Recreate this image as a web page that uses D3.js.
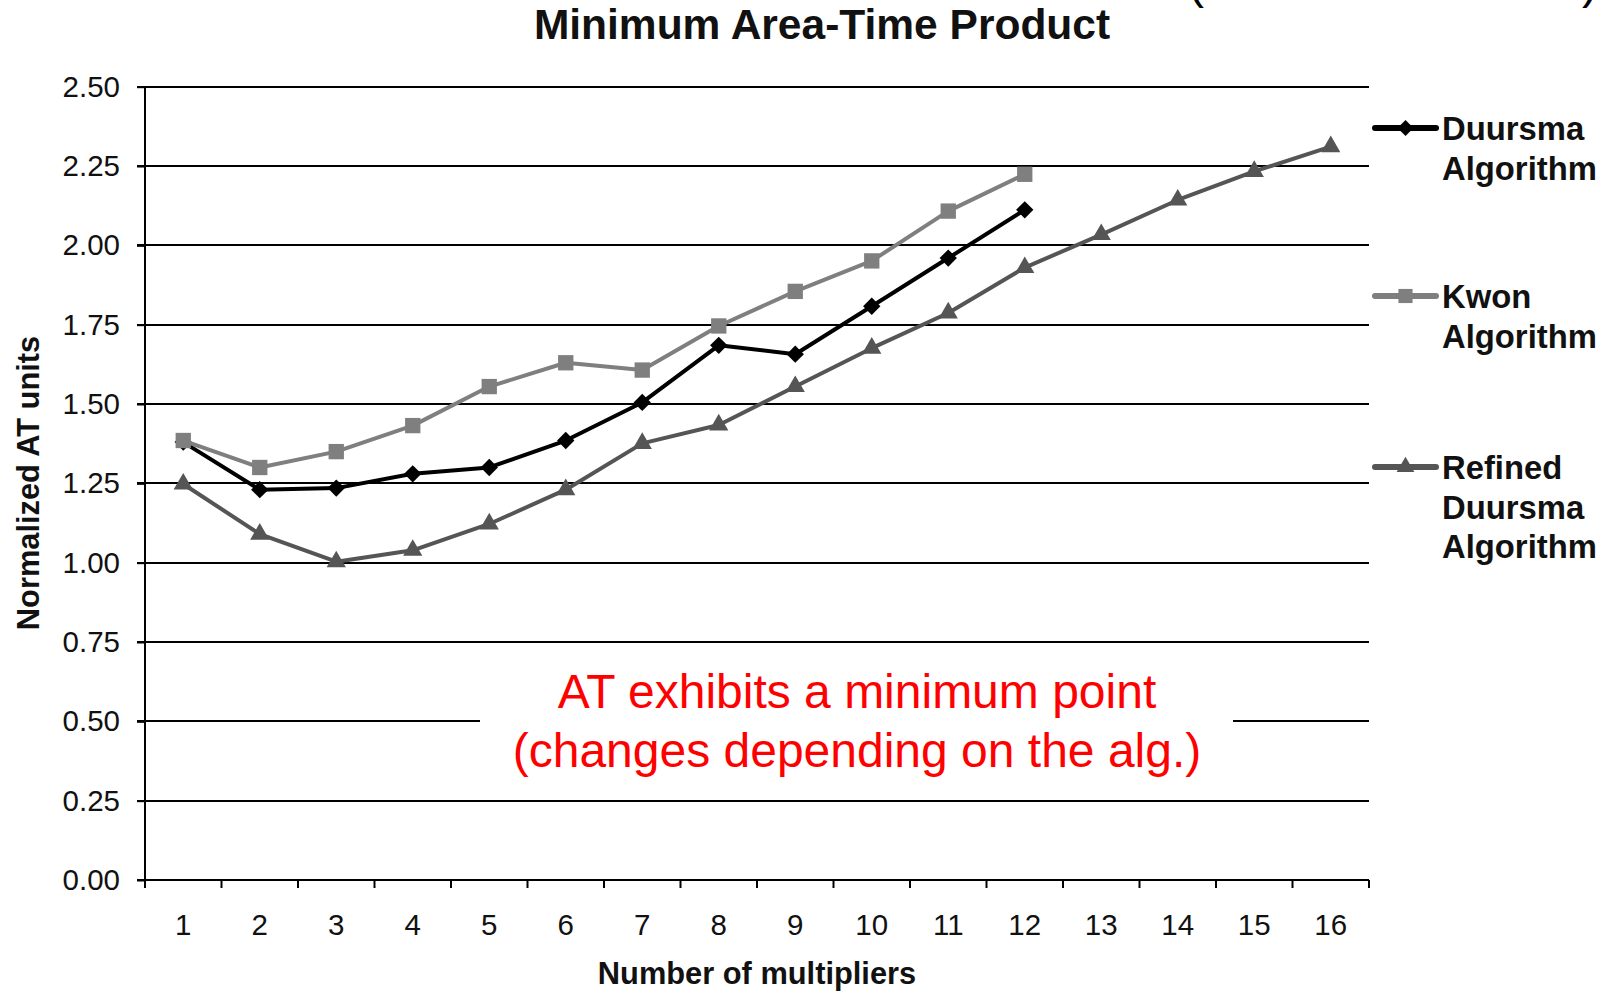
<!DOCTYPE html>
<html>
<head>
<meta charset="utf-8">
<script src="https://cdnjs.cloudflare.com/ajax/libs/d3/7.8.5/d3.min.js"></script>
<style>
  body { margin: 0; background: #fff; }
  svg { display: block; font-family: "Liberation Sans", Arial, sans-serif; }
</style>
</head>
<body>
<svg id="chart" width="1610" height="993"></svg>
<script>
// data
var multipliers = [1, 2, 3, 4, 5, 6, 7, 8, 9, 10, 11, 12, 13, 14, 15, 16];
var duursma = [1.38, 1.23, 1.235, 1.28, 1.30, 1.385, 1.505, 1.685, 1.657, 1.808, 1.96, 2.112];
var kwon = [1.385, 1.30, 1.35, 1.432, 1.555, 1.63, 1.607, 1.746, 1.855, 1.951, 2.108, 2.224];
var refined = [1.248, 1.09, 1.003, 1.039, 1.122, 1.23, 1.376, 1.434, 1.555, 1.676, 1.787, 1.93, 2.034, 2.143, 2.233, 2.311];
var yTicks = [0, 0.25, 0.5, 0.75, 1, 1.25, 1.5, 1.75, 2, 2.25, 2.5];
var seriesNames = ["Duursma", "Kwon", "Refined"];
var legendLabels = [["Duursma", "Algorithm"], ["Kwon", "Algorithm"], ["Refined", "Duursma", "Algorithm"]];

// "top" is taken by window.top, so the plot edges get their own names
var plotLeft = 145, plotRight = 1369, plotTop = 86.7, plotBottom = 880;

var svg = d3.select("#chart");

var x = d3.scaleBand()
    .domain(multipliers)
    .range([plotLeft, plotRight]);

var xEdge = d3.scaleLinear()
    .domain([0, multipliers.length])
    .range([plotLeft, plotRight]);

var y = d3.scaleLinear()
    .domain([0, 2.5])
    .range([plotBottom, plotTop]);

var series = [
  {name: seriesNames[0], values: duursma, color: "#000000", symbol: d3.symbolSquare, size: 150, rotate: 45},
  {name: seriesNames[1], values: kwon, color: "#7f7f7f", symbol: d3.symbolSquare, size: 235, rotate: 0},
  {name: seriesNames[2], values: refined, color: "#555555", symbol: d3.symbolTriangle, size: 160, rotate: 0}
];

// gridlines
svg.append("g")
    .selectAll("line")
    .data(yTicks.filter(function(d) { return d > 0; }))
  .enter().append("line")
    .attr("x1", plotLeft - 8)
    .attr("x2", plotRight)
    .attr("y1", function(d) { return Math.round(y(d)); })
    .attr("y2", function(d) { return Math.round(y(d)); })
    .attr("stroke", "#000")
    .attr("stroke-width", 2);

// y axis
var yAxis = svg.append("g")
    .attr("transform", "translate(" + plotLeft + ",0)")
    .call(d3.axisLeft(y)
      .tickValues(yTicks)
      .tickSize(8)
      .tickPadding(17)
      .tickFormat(d3.format(".2f")));
yAxis.select(".domain").attr("stroke-width", 2).attr("d", "M0," + plotTop + "V" + plotBottom);
yAxis.selectAll(".tick line").attr("stroke-width", 2);
yAxis.selectAll("text")
    .attr("font-size", 29.5)
    .attr("fill", "#111")
    .attr("font-family", "Liberation Sans, Arial, sans-serif");

// x axis: line, ticks at band edges, labels at band centres
svg.append("line")
    .attr("x1", plotLeft - 8).attr("x2", plotRight)
    .attr("y1", plotBottom).attr("y2", plotBottom)
    .attr("stroke", "#000").attr("stroke-width", 2);

svg.append("g")
    .selectAll("line")
    .data(d3.range(multipliers.length + 1))
  .enter().append("line")
    .attr("x1", function(d) { return xEdge(d); })
    .attr("x2", function(d) { return xEdge(d); })
    .attr("y1", plotBottom)
    .attr("y2", plotBottom + 8)
    .attr("stroke", "#000").attr("stroke-width", 2);

svg.append("g")
    .selectAll("text")
    .data(multipliers)
  .enter().append("text")
    .attr("x", function(d) { return x(d) + x.bandwidth() / 2; })
    .attr("y", 935)
    .attr("text-anchor", "middle")
    .attr("font-size", 29.5)
    .attr("fill", "#111")
    .text(function(d) { return d; });

// annotation box covers the gridline
svg.append("rect")
    .attr("x", 480).attr("y", 655)
    .attr("width", 753).attr("height", 130)
    .attr("fill", "#fff");

svg.append("text")
    .attr("x", 857).attr("y", 708)
    .attr("text-anchor", "middle")
    .attr("font-size", 48)
    .attr("fill", "#ff0000")
    .text("AT exhibits a minimum point");
svg.append("text")
    .attr("x", 857).attr("y", 767)
    .attr("text-anchor", "middle")
    .attr("font-size", 48)
    .attr("fill", "#ff0000")
    .text("(changes depending on the alg.)");

// series
var line = d3.line()
    .x(function(d, i) { return x(multipliers[i]) + x.bandwidth() / 2; })
    .y(function(d) { return y(d); });

series.forEach(function(s) {
  var g = svg.append("g").attr("class", "series");
  g.append("path")
      .datum(s.values)
      .attr("d", line)
      .attr("fill", "none")
      .attr("stroke", s.color)
      .attr("stroke-width", 4)
      .attr("stroke-linejoin", "round");
  g.selectAll(".pt")
      .data(s.values)
    .enter().append("path")
      .attr("class", "pt")
      .attr("d", d3.symbol().type(s.symbol).size(s.size))
      .attr("transform", function(d, i) {
        return "translate(" + (x(multipliers[i]) + x.bandwidth() / 2) + "," + y(d) + ") rotate(" + s.rotate + ")";
      })
      .attr("fill", s.color);
});

// legend
var legendY = [128, 296, 467];
series.forEach(function(s, k) {
  var g = svg.append("g").attr("transform", "translate(1375," + legendY[k] + ")");
  g.append("line")
      .attr("x1", 0).attr("x2", 61)
      .attr("stroke", s.color)
      .attr("stroke-width", 6)
      .attr("stroke-linecap", "round");
  g.append("path")
      .attr("d", d3.symbol().type(s.symbol).size(s.size * 0.85))
      .attr("transform", "translate(30.5,0) rotate(" + s.rotate + ")")
      .attr("fill", s.color);
  legendLabels[k].forEach(function(t, j) {
    g.append("text")
        .attr("x", 67)
        .attr("y", 12 + j * 39.5)
        .attr("font-size", 32.8)
        .attr("font-weight", "bold")
        .attr("fill", "#111")
        .text(t);
  });
});

// titles
svg.append("text")
    .attr("x", 822).attr("y", 39)
    .attr("text-anchor", "middle")
    .attr("font-size", 42.5)
    .attr("font-weight", "bold")
    .attr("fill", "#111")
    .text("Minimum Area-Time Product");

svg.append("text")
    .attr("x", 757).attr("y", 984)
    .attr("text-anchor", "middle")
    .attr("font-size", 30.8)
    .attr("font-weight", "bold")
    .attr("fill", "#111")
    .text("Number of multipliers");

svg.append("text")
    .attr("transform", "translate(39,483) rotate(-90)")
    .attr("text-anchor", "middle")
    .attr("font-size", 30.8)
    .attr("font-weight", "bold")
    .attr("fill", "#111")
    .text("Normalized AT units");

// bits of a cut-off heading above the frame
svg.append("text")
    .attr("x", 1188).attr("y", -2)
    .attr("font-size", 48)
    .attr("fill", "#000")
    .text("(");
svg.append("text")
    .attr("x", 1598).attr("y", -2)
    .attr("text-anchor", "end")
    .attr("font-size", 48)
    .attr("fill", "#000")
    .text(")");
</script>
</body>
</html>
